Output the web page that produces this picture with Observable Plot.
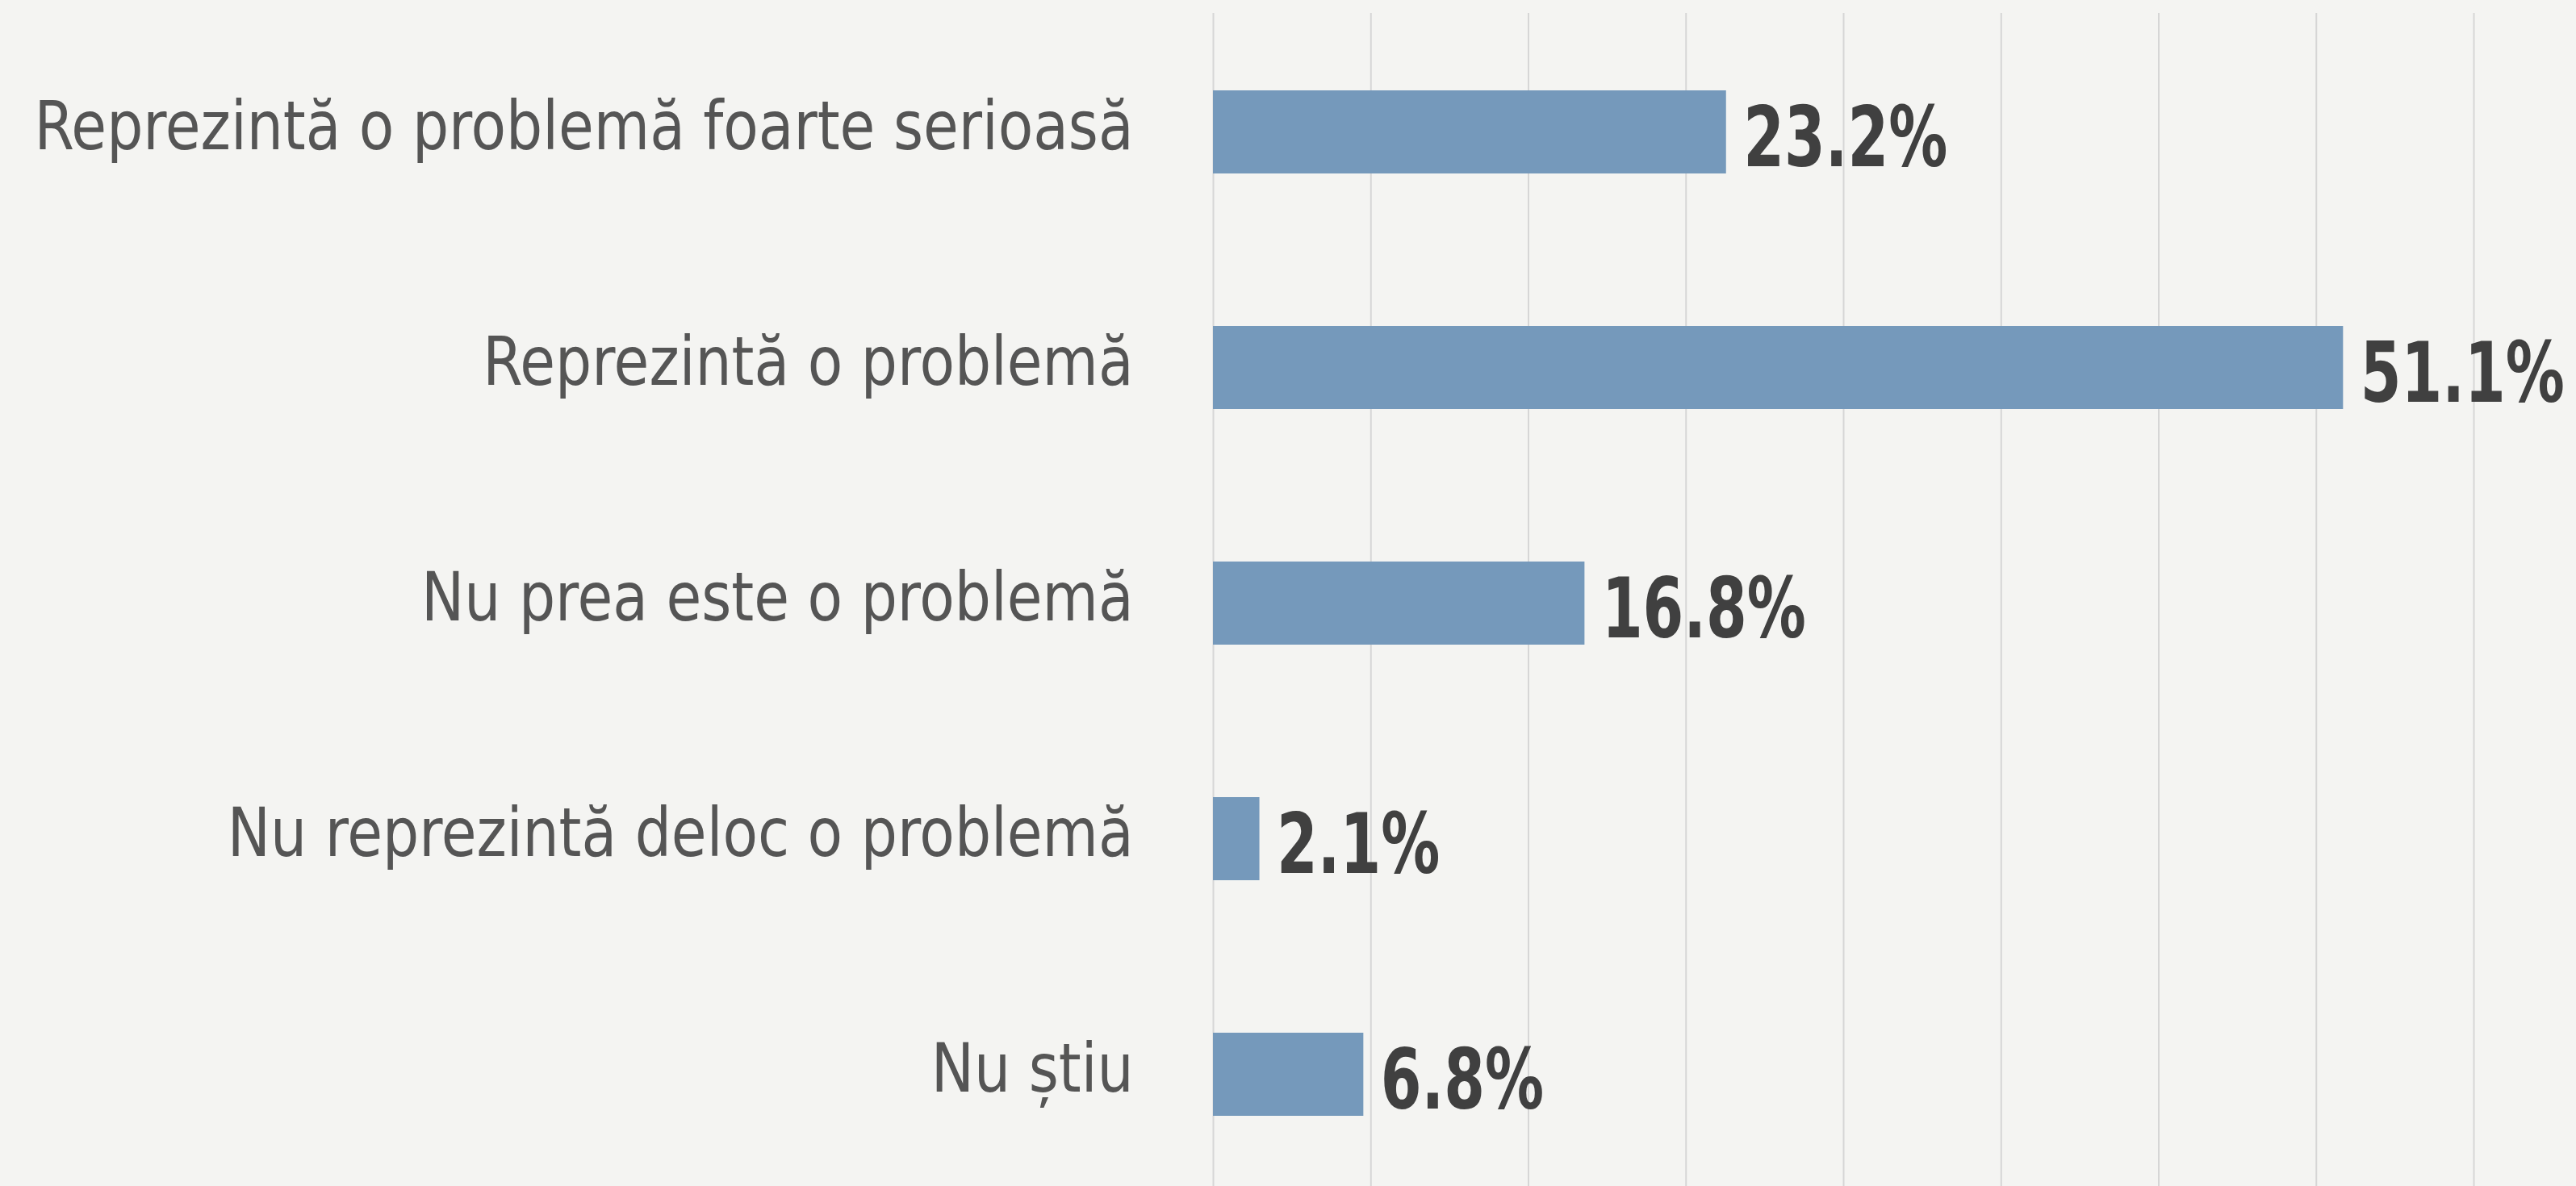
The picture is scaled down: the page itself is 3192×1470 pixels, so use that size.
<!DOCTYPE html>
<html>
<head>
<meta charset="utf-8">
<script src="https://cdn.jsdelivr.net/npm/d3@7"></script>
<script src="https://cdn.jsdelivr.net/npm/@observablehq/plot@0.6"></script>
<style>
  html, body { margin: 0; padding: 0; background: #f4f4f2; }
  #chart svg { display: block; }
</style>
</head>
<body>
<div id="chart"></div>
<script>
const categories = [
  "Reprezintă o problemă foarte serioasă",
  "Reprezintă o problemă",
  "Nu prea este o problemă",
  "Nu reprezintă deloc o problemă",
  "Nu știu"
];
const values = [23.2, 51.1, 16.8, 2.1, 6.8];
const gridTicks = [0, 7.125, 14.25, 21.375, 28.5, 35.625, 42.75, 49.875, 57];
const xMax = 57;

const data = categories.map((c, i) => ({category: c, value: values[i]}));
const FONT = "'DejaVu Sans Condensed', 'DejaVu Sans', Roboto, sans-serif";

const chart = Plot.plot({
  width: 3192,
  height: 1470,
  marginLeft: 1503,
  marginRight: 127,
  marginTop: 16,
  marginBottom: 0,
  style: {background: "#f4f4f2", fontFamily: FONT},
  x: {domain: [0, xMax], axis: null},
  y: {domain: categories, range: [16.25, 1479], paddingInner: 0.646, paddingOuter: 0.323, axis: null},
  marks: [
    Plot.ruleX(gridTicks, {stroke: "#d6d6d6", strokeWidth: 2}),
    Plot.barX(data, {x: "value", y: "category", fill: "#7599bb"}),
    Plot.text(data, {
      x: 0, y: "category", text: "category", textAnchor: "end", dx: -99, dy: -6,
      fontSize: 83, fill: "#555555", fontFamily: FONT, className: "cat-label"
    }),
    Plot.text(data, {
      x: "value", y: "category", text: d => d.value.toFixed(1) + "%", textAnchor: "start", dx: 21, dy: 9,
      fontSize: 103, fontWeight: "bold", fill: "#404040", fontFamily: FONT, className: "val-label"
    })
  ]
});
document.getElementById("chart").appendChild(chart);

// condense the glyphs to match the narrow typeface of the original
function condense(selector, refIndex, targetWidth) {
  const nodes = Array.from(chart.querySelectorAll(selector + " text"));
  if (!nodes.length) return;
  const w0 = nodes[refIndex].getComputedTextLength();
  const f = Math.min(1, targetWidth / w0);
  nodes.forEach(n => {
    const w = n.getComputedTextLength();
    n.setAttribute("textLength", (w * f).toFixed(1));
    n.setAttribute("lengthAdjust", "spacingAndGlyphs");
  });
}
condense(".cat-label", 0, 1362);
condense(".val-label", 0, 253);
</script>
</body>
</html>
